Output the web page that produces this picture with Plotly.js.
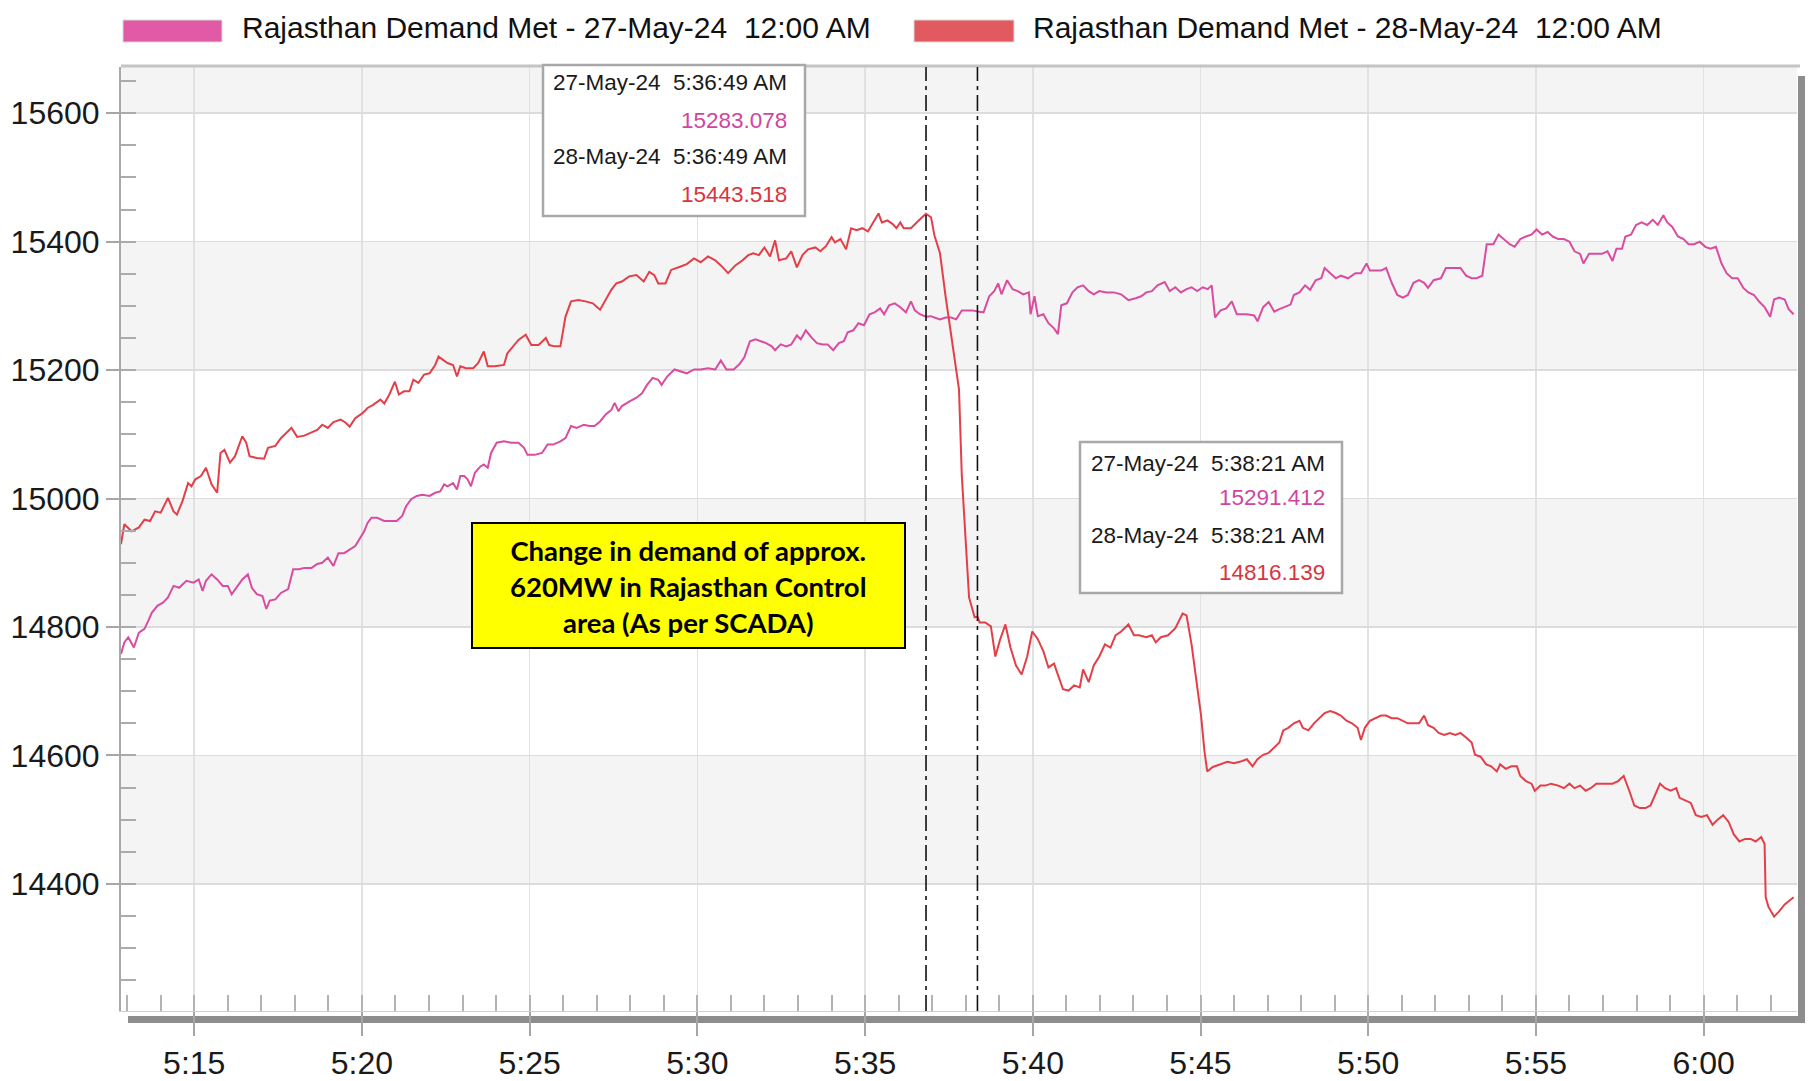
<!DOCTYPE html>
<html>
<head>
<meta charset="utf-8">
<script src="https://cdn.plot.ly/plotly-3.0.1.min.js"></script>
<style>
  html, body { margin: 0; padding: 0; background: #ffffff; }
  #chart { width: 1810px; height: 1081px; }
</style>
</head>
<body>
<div id="chart"></div>
<script>
// ---------------- DATA ----------------
const seriesNames = [
  "Rajasthan Demand Met - 27-May-24\u00A0 12:00 AM",
  "Rajasthan Demand Met - 28-May-24\u00A0 12:00 AM"
];
const seriesDates = ["27-May-24", "28-May-24"];
const baseDate = "2024-05-28";

// 27-May-24 series (pink)
const pinkTimes = [
"05:12:49","05:12:55","05:13:02","05:13:12","05:13:21","05:13:31","05:13:38","05:13:44","05:13:54","05:14:04",
"05:14:13","05:14:23","05:14:33","05:14:46","05:14:59","05:15:08","05:15:15","05:15:21","05:15:31","05:15:41",
"05:15:51","05:16:00","05:16:07","05:16:17","05:16:26","05:16:36","05:16:43","05:16:52","05:17:02","05:17:09",
"05:17:15","05:17:25","05:17:35","05:17:48","05:17:57","05:18:07","05:18:17","05:18:30","05:18:40","05:18:49",
"05:18:59","05:19:09","05:19:18","05:19:28","05:19:38","05:19:48","05:19:57","05:20:04","05:20:10","05:20:17",
"05:20:27","05:20:40","05:20:53","05:21:02","05:21:12","05:21:19","05:21:28","05:21:38","05:21:48","05:22:01",
"05:22:11","05:22:20","05:22:27","05:22:33","05:22:43","05:22:50","05:22:56","05:23:03","05:23:09","05:23:15",
"05:23:22","05:23:32","05:23:38","05:23:45","05:23:51","05:24:01","05:24:14","05:24:27","05:24:40","05:24:50",
"05:24:56","05:25:09","05:25:22","05:25:32","05:25:42","05:25:55","05:26:04","05:26:14","05:26:24","05:26:37",
"05:26:47","05:26:56","05:27:06","05:27:16","05:27:26","05:27:32","05:27:39","05:27:45","05:27:58","05:28:11",
"05:28:21","05:28:30","05:28:40","05:28:50","05:28:56","05:29:06","05:29:19","05:29:32","05:29:41","05:29:54",
"05:30:06","05:30:19","05:30:32","05:30:42","05:30:52","05:31:05","05:31:15","05:31:24","05:31:34","05:31:44",
"05:31:53","05:32:03","05:32:13","05:32:19","05:32:29","05:32:39","05:32:48","05:32:58","05:33:05","05:33:14",
"05:33:24","05:33:34","05:33:44","05:33:53","05:34:03","05:34:13","05:34:22","05:34:29","05:34:39","05:34:48",
"05:34:58","05:35:08","05:35:17","05:35:27","05:35:34","05:35:43","05:35:53","05:36:03","05:36:13","05:36:22",
"05:36:29","05:36:38","05:36:49","05:36:58","05:37:04","05:37:14","05:37:24","05:37:34","05:37:43","05:37:53",
"05:38:03","05:38:12","05:38:21","05:38:32","05:38:42","05:38:51","05:38:58","05:39:04","05:39:14","05:39:24",
"05:39:33","05:39:43","05:39:53","05:39:56","05:40:03","05:40:09","05:40:19","05:40:28","05:40:38","05:40:45",
"05:40:51","05:41:01","05:41:11","05:41:20","05:41:30","05:41:40","05:41:49","05:41:59","05:42:12","05:42:25",
"05:42:38","05:42:51","05:43:04","05:43:14","05:43:23","05:43:33","05:43:43","05:43:56","05:44:05","05:44:15",
"05:44:25","05:44:35","05:44:44","05:44:54","05:45:04","05:45:13","05:45:20","05:45:26","05:45:36","05:45:46",
"05:45:56","05:46:05","05:46:23","05:46:36","05:46:42","05:46:52","05:47:02","05:47:12","05:47:21","05:47:31",
"05:47:41","05:47:47","05:47:57","05:48:07","05:48:16","05:48:26","05:48:36","05:48:42","05:48:52","05:49:02",
"05:49:11","05:49:24","05:49:37","05:49:47","05:49:57","05:50:03","05:50:13","05:50:23","05:50:32","05:50:42",
"05:50:52","05:51:02","05:51:11","05:51:21","05:51:31","05:51:40","05:51:47","05:51:57","05:52:10","05:52:19",
"05:52:32","05:52:45","05:52:55","05:53:05","05:53:14","05:53:24","05:53:32","05:53:44","05:53:53","05:54:03",
"05:54:13","05:54:22","05:54:32","05:54:42","05:54:52","05:55:01","05:55:11","05:55:21","05:55:30","05:55:40",
"05:55:50","05:56:00","05:56:09","05:56:19","05:56:25","05:56:35","05:56:45","05:56:58","05:57:08","05:57:17",
"05:57:24","05:57:34","05:57:40","05:57:50","05:57:59","05:58:09","05:58:19","05:58:29","05:58:38","05:58:48",
"05:58:55","05:59:04","05:59:14","05:59:24","05:59:33","05:59:43","05:59:53","06:00:03","06:00:12","06:00:22",
"06:00:32","06:00:41","06:00:51","06:01:01","06:01:11","06:01:20","06:01:30","06:01:40","06:01:49","06:01:59",
"06:02:06","06:02:15","06:02:25","06:02:32","06:02:41"
];
const pinkMW = [
14758,14776,14784,14768,14791,14797,14810,14822,14833,14838,
14846,14864,14861,14872,14869,14874,14856,14872,14882,14874,
14864,14864,14851,14864,14874,14882,14861,14851,14848,14828,
14841,14843,14853,14859,14890,14890,14892,14892,14898,14900,
14908,14895,14915,14915,14921,14926,14939,14949,14962,14970,
14970,14965,14965,14965,14973,14988,14999,15004,15006,15004,
15009,15011,15022,15019,15024,15014,15035,15035,15030,15019,
15040,15050,15053,15048,15071,15087,15089,15087,15087,15079,
15068,15068,15071,15084,15084,15089,15094,15113,15110,15115,
15113,15113,15120,15131,15138,15149,15136,15144,15151,15157,
15164,15177,15188,15185,15177,15190,15201,15198,15195,15201,
15201,15203,15201,15215,15201,15201,15209,15220,15245,15248,
15245,15242,15237,15231,15240,15237,15240,15254,15248,15262,
15251,15242,15240,15240,15231,15242,15245,15259,15262,15273,
15270,15287,15290,15296,15287,15301,15304,15298,15290,15307,
15293,15287,15283.078,15284,15282,15279,15282,15282,15279,15293,
15293,15293,15291.412,15290,15315,15323,15335,15318,15340,15326,
15323,15318,15321,15287,15315,15284,15287,15273,15265,15256,
15301,15304,15321,15329,15332,15323,15318,15323,15321,15321,
15318,15309,15312,15315,15321,15323,15332,15337,15323,15329,
15321,15326,15329,15323,15329,15326,15332,15282,15293,15296,
15307,15287,15287,15285,15276,15298,15306,15291,15295,15298,
15302,15317,15321,15332,15325,15340,15343,15359,15351,15343,
15347,15343,15351,15351,15366,15355,15355,15355,15359,15336,
15317,15313,15317,15336,15340,15336,15328,15340,15343,15359,
15359,15359,15347,15343,15343,15347,15396,15396,15411,15404,
15396,15392,15404,15408,15411,15419,15411,15415,15408,15404,
15404,15400,15385,15381,15366,15381,15381,15381,15385,15370,
15389,15389,15408,15411,15426,15430,15426,15434,15426,15441,
15430,15423,15408,15404,15396,15396,15400,15392,15389,15392,
15366,15351,15343,15343,15328,15321,15317,15306,15298,15283,
15310,15313,15310,15295,15287
];

// 28-May-24 series (red)
const redTimes = [
"05:12:49","05:12:55","05:13:08","05:13:21","05:13:31","05:13:41","05:13:50","05:14:00","05:14:13","05:14:23",
"05:14:29","05:14:39","05:14:49","05:14:55","05:15:02","05:15:12","05:15:21","05:15:31","05:15:41","05:15:47",
"05:15:54","05:16:04","05:16:13","05:16:26","05:16:33","05:16:39","05:16:52","05:17:05","05:17:12","05:17:25",
"05:17:35","05:17:44","05:17:54","05:18:04","05:18:17","05:18:30","05:18:40","05:18:49","05:18:59","05:19:09",
"05:19:22","05:19:31","05:19:38","05:19:48","05:20:01","05:20:10","05:20:20","05:20:33","05:20:40","05:20:49",
"05:20:59","05:21:06","05:21:15","05:21:25","05:21:32","05:21:41","05:21:51","05:22:01","05:22:11","05:22:17",
"05:22:24","05:22:33","05:22:43","05:22:50","05:22:56","05:23:06","05:23:19","05:23:28","05:23:38","05:23:45",
"05:23:58","05:24:14","05:24:20","05:24:30","05:24:40","05:24:53","05:25:03","05:25:16","05:25:29","05:25:35",
"05:25:45","05:25:55","05:26:04","05:26:14","05:26:27","05:26:40","05:26:53","05:27:06","05:27:16","05:27:26",
"05:27:35","05:27:45","05:27:58","05:28:11","05:28:24","05:28:34","05:28:43","05:28:50","05:29:03","05:29:13",
"05:29:29","05:29:41","05:29:54","05:30:06","05:30:19","05:30:32","05:30:42","05:30:55","05:31:08","05:31:21",
"05:31:31","05:31:40","05:31:50","05:32:00","05:32:10","05:32:19","05:32:26","05:32:39","05:32:48","05:32:58",
"05:33:08","05:33:18","05:33:31","05:33:40","05:33:50","05:34:00","05:34:06","05:34:16","05:34:26","05:34:35",
"05:34:45","05:34:55","05:35:05","05:35:14","05:35:24","05:35:30","05:35:40","05:35:50","05:35:56","05:36:03",
"05:36:09","05:36:22","05:36:32","05:36:42","05:36:49","05:36:58","05:37:04","05:37:14","05:37:24","05:37:34",
"05:37:43","05:37:48","05:37:53","05:37:59","05:38:06","05:38:16","05:38:21","05:38:25","05:38:35","05:38:45",
"05:38:53","05:39:01","05:39:11","05:39:20","05:39:30","05:39:40","05:39:50","05:39:59","05:40:09","05:40:19",
"05:40:28","05:40:38","05:40:45","05:40:54","05:41:04","05:41:14","05:41:24","05:41:30","05:41:40","05:41:49",
"05:41:59","05:42:09","05:42:19","05:42:28","05:42:38","05:42:51","05:43:01","05:43:10","05:43:23","05:43:33",
"05:43:40","05:43:49","05:44:02","05:44:15","05:44:28","05:44:35","05:44:44","05:44:54","05:45:01","05:45:07",
"05:45:12","05:45:22","05:45:35","05:45:48","05:46:00","05:46:10","05:46:23","05:46:33","05:46:42","05:46:52",
"05:47:02","05:47:12","05:47:21","05:47:28","05:47:37","05:47:47","05:47:57","05:48:03","05:48:13","05:48:23",
"05:48:32","05:48:42","05:48:52","05:49:02","05:49:11","05:49:21","05:49:31","05:49:41","05:49:47","05:49:54",
"05:50:03","05:50:13","05:50:23","05:50:32","05:50:42","05:50:52","05:51:02","05:51:11","05:51:21","05:51:31",
"05:51:40","05:51:47","05:51:57","05:52:06","05:52:16","05:52:26","05:52:36","05:52:45","05:52:55","05:53:05",
"05:53:11","05:53:21","05:53:31","05:53:40","05:53:50","05:53:56","05:54:06","05:54:16","05:54:26","05:54:32",
"05:54:42","05:54:52","05:54:58","05:55:08","05:55:17","05:55:27","05:55:40","05:55:50","05:56:00","05:56:09",
"05:56:19","05:56:29","05:56:38","05:56:48","05:56:58","05:57:08","05:57:17","05:57:27","05:57:37","05:57:47",
"05:57:56","05:58:06","05:58:16","05:58:25","05:58:32","05:58:42","05:58:51","05:59:01","05:59:11","05:59:17",
"05:59:27","05:59:37","05:59:46","05:59:56","06:00:06","06:00:16","06:00:25","06:00:35","06:00:45","06:00:54",
"06:01:04","06:01:14","06:01:24","06:01:33","06:01:43","06:01:49","06:01:51","06:01:56","06:02:06","06:02:15",
"06:02:25","06:02:35","06:02:41"
];
const redMW = [
14929,14960,14949,14955,14967,14965,14980,14978,15001,14980,
14975,14996,15024,15019,15030,15035,15048,15022,15009,15071,
15076,15056,15066,15097,15087,15066,15063,15062,15079,15082,
15094,15102,15110,15096,15098,15103,15107,15115,15110,15119,
15123,15118,15112,15125,15133,15141,15146,15154,15148,15162,
15182,15162,15167,15167,15185,15180,15193,15195,15208,15221,
15216,15211,15208,15190,15206,15203,15203,15211,15229,15206,
15206,15208,15226,15237,15247,15255,15239,15239,15250,15239,
15237,15237,15283,15307,15309,15307,15304,15294,15309,15325,
15335,15338,15346,15348,15338,15353,15348,15335,15335,15356,
15361,15365,15374,15368,15377,15371,15363,15351,15363,15371,
15379,15382,15379,15391,15377,15402,15371,15374,15385,15360,
15379,15388,15391,15385,15393,15407,15399,15404,15388,15421,
15418,15421,15416,15430,15444,15430,15433,15427,15421,15430,
15421,15421,15430,15438,15443.518,15438,15410,15382,15315,15254,
15203,15170,15036,14952,14846,14815,14816.139,14807,14807,14801,
14754,14779,14804,14768,14740,14726,14754,14793,14781,14762,
14737,14743,14726,14703,14701,14709,14706,14734,14714,14740,
14754,14773,14768,14787,14793,14804,14787,14787,14784,14787,
14776,14784,14787,14798,14821,14818,14773,14712,14662,14607,
14575,14582,14586,14590,14588,14590,14594,14583,14594,14601,
14604,14613,14620,14639,14643,14650,14654,14643,14639,14650,
14658,14666,14669,14666,14662,14654,14650,14643,14624,14643,
14654,14658,14662,14662,14658,14658,14654,14650,14650,14650,
14662,14647,14643,14635,14632,14635,14632,14635,14628,14620,
14601,14598,14586,14583,14575,14586,14579,14583,14583,14568,
14560,14556,14545,14553,14553,14556,14553,14549,14556,14549,
14553,14545,14549,14556,14556,14556,14556,14560,14568,14545,
14522,14518,14518,14522,14537,14556,14549,14545,14549,14534,
14530,14526,14507,14504,14507,14492,14500,14507,14496,14477,
14466,14470,14470,14466,14473,14462,14379,14364,14349,14357,
14368,14375,14379
];

// Cursor read-outs shown in the two tooltip boxes
const cursorTimes  = ["05:36:49", "05:38:21"];
const cursorLabels = ["5:36:49 AM", "5:38:21 AM"];
const cursorPink   = [15283.078, 15291.412];
const cursorRed    = [15443.518, 14816.139];

const noteText = ["Change in demand of approx.", "620MW in Rajasthan Control", "area (As per SCADA)"];

const xRange = ["05:12:49", "06:02:47"];
const yRange = [14202, 15672];
const yMajor = 200, yMinor = 50;

// ---------------- STYLE / LAYOUT ----------------
const W = 1810, H = 1081;
const L = 121, R = 1797, T = 67, B = 1011;
const px = v => (v - L) / (R - L);
const py = v => (B - v) / (B - T);
const SANS = '"Liberation Sans", Arial, Helvetica, sans-serif';
const PINK = '#d94c9f', RED = '#e23f49';
const PINK_TXT = '#cf45a0', RED_TXT = '#d8353d';
const dt = t => baseDate + ' ' + t;

const traces = [
  { x: pinkTimes.map(dt), y: pinkMW, type: 'scatter', mode: 'lines', name: seriesNames[0],
    line: { color: PINK, width: 2 }, hoverinfo: 'x+y' },
  { x: redTimes.map(dt), y: redMW, type: 'scatter', mode: 'lines', name: seriesNames[1],
    line: { color: RED, width: 2 }, hoverinfo: 'x+y' }
];

const shapes = [];
// alternating light bands
for (let v = Math.ceil(yRange[0] / 400) * 400; v < yRange[1]; v += 2 * yMajor) {
  shapes.push({ type: 'rect', layer: 'below', xref: 'paper', yref: 'y', x0: 0, x1: 1,
    y0: v, y1: Math.min(v + yMajor, yRange[1]), fillcolor: '#f4f4f4', line: { width: 0 } });
}
// frame: top line, right dark bar, bottom dark bar
shapes.push({ type: 'line', layer: 'above', xref: 'paper', yref: 'paper', x0: px(121), x1: px(1800), y0: py(66), y1: py(66),
  line: { color: '#c4c4c4', width: 3 } });
shapes.push({ type: 'rect', layer: 'below', xref: 'paper', yref: 'paper', x0: px(1798), x1: px(1805), y0: py(76), y1: py(1023),
  fillcolor: '#8d8d8d', line: { width: 0 } });
shapes.push({ type: 'rect', layer: 'below', xref: 'paper', yref: 'paper', x0: px(128), x1: px(1805), y0: py(1016), y1: py(1023),
  fillcolor: '#8d8d8d', line: { width: 0 } });
// cursor dash-dot lines
cursorTimes.forEach(t => shapes.push({ type: 'line', layer: 'above', xref: 'x', yref: 'paper',
  x0: dt(t), x1: dt(t), y0: 0, y1: 1, line: { color: '#111111', width: 1.6, dash: '16px,5px,4px,5px' } }));
// tooltip boxes
const boxes = [[543, 805, 65, 216], [1080, 1342, 442, 593]];
boxes.forEach(b => shapes.push({ type: 'rect', layer: 'above', xref: 'paper', yref: 'paper',
  x0: px(b[0]), x1: px(b[1]), y0: py(b[3]), y1: py(b[2]), fillcolor: '#ffffff', line: { color: '#a8a8a8', width: 2.5 } }));
// yellow note box
shapes.push({ type: 'rect', layer: 'above', xref: 'paper', yref: 'paper',
  x0: px(472), x1: px(905), y0: py(648), y1: py(523), fillcolor: '#ffff00', line: { color: '#000000', width: 2 } });
// legend swatches
shapes.push({ type: 'rect', xref: 'paper', yref: 'paper', x0: px(123), x1: px(222), y0: py(42), y1: py(20),
  fillcolor: '#e05aa6', line: { color: '#d9d9d9', width: 1 } });
shapes.push({ type: 'rect', xref: 'paper', yref: 'paper', x0: px(914), x1: px(1014), y0: py(42), y1: py(20),
  fillcolor: '#e25a60', line: { color: '#d9d9d9', width: 1 } });

const annotations = [];
// legend text
annotations.push({ xref: 'paper', yref: 'paper', x: px(240), y: py(28), xanchor: 'left', yanchor: 'middle',
  text: seriesNames[0], showarrow: false, font: { family: SANS, size: 30, color: '#111111' } });
annotations.push({ xref: 'paper', yref: 'paper', x: px(1031), y: py(28), xanchor: 'left', yanchor: 'middle',
  text: seriesNames[1], showarrow: false, font: { family: SANS, size: 30, color: '#111111' } });
// tooltip texts: one annotation per line, right aligned inside its box
const tipRight = [789, 1327];
const tipRows = [[82, 120, 157, 195], [463, 498, 535, 572]];
cursorLabels.forEach((lab, i) => {
  const lines = [
    [seriesDates[0] + '\u00A0 ' + lab, '#1a1a1a'],
    [cursorPink[i].toFixed(3), PINK_TXT],
    [seriesDates[1] + '\u00A0 ' + lab, '#1a1a1a'],
    [cursorRed[i].toFixed(3), RED_TXT]
  ];
  lines.forEach((ln, k) => annotations.push({ xref: 'paper', yref: 'paper', x: px(tipRight[i]), y: py(tipRows[i][k]),
    xanchor: 'right', yanchor: 'middle', align: 'right', text: ln[0], showarrow: false,
    font: { family: SANS, size: 22.5, color: ln[1] } }));
});
// yellow note text
annotations.push({ xref: 'paper', yref: 'paper', x: px(688), y: py(586), xanchor: 'center', yanchor: 'middle',
  align: 'center', text: noteText.join('<br>'), showarrow: false,
  font: { family: 'Lato, "Open Sans", sans-serif', size: 27.5, color: '#000000', weight: 700 } });

const layout = {
  width: W, height: H,
  margin: { l: L, r: W - R, t: T, b: H - B, pad: 0 },
  paper_bgcolor: '#ffffff', plot_bgcolor: '#ffffff',
  showlegend: false,
  xaxis: {
    type: 'date', range: xRange.map(dt), tick0: dt('05:00:00'), dtick: 300000, tickformat: '%-H:%M',
    ticks: 'outside', ticklen: 24, tickwidth: 2, tickcolor: '#a6a6a6',
    showgrid: true, gridcolor: '#e1e1e1', gridwidth: 1.5, zeroline: false,
    showline: true, linecolor: '#cfcfcf', linewidth: 1,
    minor: { dtick: 60000, ticks: 'inside', ticklen: 16, tickwidth: 2, tickcolor: '#b3b3b3', showgrid: false },
    tickfont: { family: SANS, size: 32, color: '#1a1a1a' }, fixedrange: true
  },
  yaxis: {
    range: yRange, tick0: 14400, dtick: yMajor, tickformat: 'd',
    ticks: 'outside', ticklen: 13, tickwidth: 2, tickcolor: '#a6a6a6',
    showgrid: true, gridcolor: '#dcdcdc', gridwidth: 1.5, zeroline: false,
    showline: true, linecolor: '#a9a9a9', linewidth: 2,
    minor: { dtick: yMinor, ticks: 'inside', ticklen: 15, tickwidth: 2, tickcolor: '#ababab', showgrid: false },
    tickfont: { family: SANS, size: 32, color: '#1a1a1a' }, fixedrange: true
  },
  shapes: shapes,
  annotations: annotations
};

Plotly.newPlot('chart', traces, layout, { displayModeBar: false, staticPlot: true });
</script>
</body>
</html>
